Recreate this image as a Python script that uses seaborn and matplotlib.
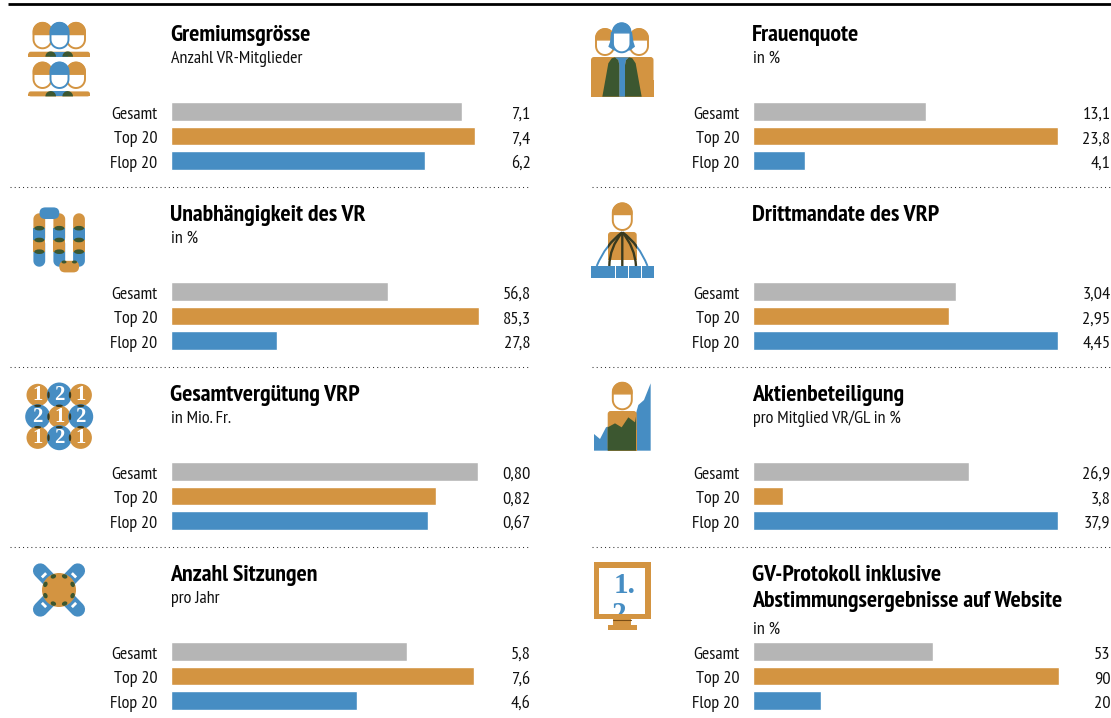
import numpy as np
import pandas as pd
import matplotlib
matplotlib.use('Agg')
import matplotlib.pyplot as plt
from matplotlib.patches import Circle, Ellipse, Polygon, Rectangle, FancyBboxPatch, PathPatch
from matplotlib.path import Path
from matplotlib.transforms import ScaledTranslation
import seaborn as sns

# Data
groups = ['Gesamt', 'Top 20', 'Flop 20']
titles = ['Gremiumsgrösse', 'Frauenquote', 'Unabhängigkeit des VR', 'Drittmandate des VRP',
          'Gesamtvergütung VRP', 'Aktienbeteiligung', 'Anzahl Sitzungen',
          'GV-Protokoll inklusive\nAbstimmungsergebnisse auf Website']
subtitles = ['Anzahl VR-Mitglieder', 'in %', 'in %', '', 'in Mio. Fr.',
             'pro Mitglied VR/GL in %', 'pro Jahr', 'in %']
# printed numbers
value_labels = [['7,1', '7,4', '6,2'], ['13,1', '23,8', '4,1'],
                ['56,8', '85,3', '27,8'], ['3,04', '2,95', '4,45'],
                ['0,80', '0,82', '0,67'], ['26,9', '3,8', '37,9'],
                ['5,8', '7,6', '4,6'], ['53', '90', '20']]
# bar lengths as drawn (some differ from the printed numbers in the original)
bar_values = [[7.1, 7.4, 6.2], [13.5, 23.8, 4.1],
              [56.8, 80.6, 27.8], [2.96, 2.86, 4.45],
              [0.80, 0.69, 0.67], [26.9, 3.8, 37.9],
              [5.84, 7.5, 4.6], [53, 90, 20]]
x_limits = [8.745, 28.0, 94.0, 5.24, 0.935, 44.6, 8.89, 105.6]

GREY = '#B5B5B5'
ORANGE = '#D39441'
BLUE = '#468DC3'
GREEN = '#3C5730'
DARK = '#3A3A1E'
W, H = 1111, 718
NARROW = ['PT Sans Narrow', 'Archivo Narrow', 'DejaVu Sans']
SERIF = ['Liberation Serif', 'DejaVu Serif']

sns.set_theme(style='white')
plt.rcParams['font.family'] = NARROW

fig = plt.figure(figsize=(W / 100, H / 100), dpi=100, facecolor='white')

# overlay in pixel coordinates for rules, headings and icons
bg = fig.add_axes([0, 0, 1, 1])
bg.set_xlim(0, W)
bg.set_ylim(H, 0)
bg.axis('off')


def capsule(cx, top, w, h, n=24):
    t = np.linspace(np.pi, 0, n)
    r = w / 2
    up = np.c_[cx + r * np.cos(t), top + r - r * np.sin(t)]
    low = np.c_[cx + r * np.cos(t[::-1]), top + h - r + r * np.sin(t[::-1])]
    return np.vstack([up, low])


def head(cx, top, w, h, color, hair=0.42, z=3):
    bg.add_patch(Polygon(capsule(cx, top, w, h), closed=True, fc='white', ec=color, lw=1.4, zorder=z))
    hy = top + h * hair
    t = np.linspace(np.pi, 0, 24)
    r = w / 2
    arc = np.c_[cx + r * np.cos(t), top + r - r * np.sin(t)]
    hp = np.vstack([[cx - r, hy], arc, [cx + r, hy]])
    bg.add_patch(Polygon(hp, closed=True, fc=color, ec=color, lw=1, zorder=z + 0.1))


def icon_board(dy):
    for cx, col, z in [(42.5, ORANGE, 3), (76, ORANGE, 3), (59.5, BLUE, 4)]:
        head(cx, 22.8 + dy, 18, 25.5, col, hair=0.46, z=z)
    bg.add_patch(FancyBboxPatch((28.3, 51.7 + dy), 61.7, 5, boxstyle='round,pad=0,rounding_size=2.5',
                                fc=ORANGE, lw=0, zorder=2))
    bg.add_patch(Rectangle((28.3, 54.2 + dy), 61.7, 2.5, fc=ORANGE, lw=0, zorder=2))
    bg.add_patch(Rectangle((50, 51.7 + dy), 18, 5, fc=BLUE, lw=0, zorder=2.1))
    for cx in (50.7, 67.7):
        t = np.linspace(np.pi, 0, 20)
        bg.add_patch(Polygon(np.c_[cx + 5.3 * np.cos(t), 56.7 + dy - 5.3 * np.sin(t)],
                             fc=GREEN, lw=0, zorder=2.2))


def zw(points, x0=570, y0=0):
    return [(x0 + a / 3, y0 + b / 3) for a, b in points]


def icon_women():
    head(605, 29, 18, 26, ORANGE, z=3)
    head(639, 29, 18, 26, ORANGE, z=3)
    bg.add_patch(Polygon([(611, 32), (632, 32), (633.5, 42), (635, 46.7), (630, 50.5), (614, 50.5), (608.3, 46.7), (610, 42)],
                         fc=BLUE, lw=0, zorder=4))
    head(621.7, 23.3, 17.5, 29, BLUE, hair=0.33, z=5)
    bg.add_patch(FancyBboxPatch((591, 57), 62.5, 40, boxstyle='round,pad=0,rounding_size=3',
                                fc=ORANGE, lw=0, zorder=2))
    bg.add_patch(Rectangle((591, 80), 62.5, 17, fc=ORANGE, lw=0, zorder=2))
    bg.add_patch(Polygon(zw([(97, 290), (115, 190), (125, 175), (135, 172), (145, 180), (148, 195), (148, 290)]),
                         fc=GREEN, lw=0, zorder=3))
    bg.add_patch(Polygon(zw([(215, 290), (197, 190), (187, 175), (177, 172), (168, 180), (165, 195), (165, 290)]),
                         fc=GREEN, lw=0, zorder=3))
    bg.add_patch(Polygon(zw([(135, 172), (177, 172), (168, 180), (165, 195), (165, 290), (148, 290), (148, 195), (145, 180)]),
                         fc=BLUE, lw=0, zorder=3))


def icon_independent():
    for x in (39.3, 59.3, 79):
        bg.add_patch(Polygon(capsule(x, 213.3, 11.8, 30), fc=ORANGE, lw=0, zorder=2))
        bg.add_patch(Polygon(capsule(x, 238, 11.8, 28.7), fc=BLUE, lw=0, zorder=2))
        bg.add_patch(Rectangle((x - 5.9, 228.3), 11.8, 11.7, fc=BLUE, lw=0, zorder=2.1))
        bg.add_patch(Rectangle((x - 5.9, 240), 11.8, 11.7, fc=ORANGE, lw=0, zorder=2.1))
        for y in (228.2, 240, 251.7):
            bg.add_patch(Ellipse((x, y), 10, 4.6, fc=GREEN, lw=0, zorder=4))
    bg.add_patch(FancyBboxPatch((39.5, 207.4), 19.8, 11.6, boxstyle='round,pad=0,rounding_size=5.8',
                                fc=BLUE, lw=0, zorder=5))
    bg.add_patch(FancyBboxPatch((59.3, 260.8), 19.8, 11.6, boxstyle='round,pad=0,rounding_size=5.8',
                                fc=ORANGE, lw=0, zorder=5))
    bg.add_patch(Ellipse((64, 262), 5, 3, fc=GREEN, lw=0, zorder=6))
    bg.add_patch(Ellipse((74.5, 262), 5, 3, fc=GREEN, lw=0, zorder=6))


def icon_mandates():
    head(622.3, 203.3, 19, 26.7, ORANGE)
    bg.add_patch(FancyBboxPatch((608, 232), 28.7, 28, boxstyle='round,pad=0,rounding_size=3',
                                fc=ORANGE, lw=0, zorder=2))
    bg.add_patch(Rectangle((608, 250), 28.7, 10, fc=ORANGE, lw=0, zorder=2))
    for a, b in [(591, 615), (616, 628), (629, 641), (642, 654)]:
        bg.add_patch(Rectangle((a, 266), b - a, 12, fc=BLUE, lw=0, zorder=2))
    start = (622.3, 232.3)
    for end, ctrl in [((596.7, 266), (605.8, 244.2)), ((647.5, 266), (639, 244.2))]:
        path = Path([start, ctrl, end], [Path.MOVETO, Path.CURVE3, Path.CURVE3])
        bg.add_patch(PathPatch(path, fc='none', ec=BLUE, lw=1.4, zorder=3))
        dark = PathPatch(path, fc='none', ec=DARK, lw=1.7, zorder=3.2)
        bg.add_patch(dark)
        dark.set_clip_path(Rectangle((608, 232), 28.7, 28, transform=bg.transData))
    for end, ctrl in [((609.3, 266), (609.5, 247.5)), ((622.3, 266), (622.3, 248)), ((636, 266), (635, 247.5))]:
        path = Path([start, ctrl, end], [Path.MOVETO, Path.CURVE3, Path.CURVE3])
        bg.add_patch(PathPatch(path, fc='none', ec=DARK, lw=1.7, zorder=3.1))


def icon_pay():
    xs = [37.7, 59.3, 80.7]
    ys = [395, 416.7, 437.7]
    for i, y in enumerate(ys):
        for j, x in enumerate(xs):
            one = (i + j) % 2 == 0
            col = ORANGE if one else BLUE
            bg.add_patch(Circle((x, y), 11.2 if one else 12.5, fc=col, lw=0, zorder=3))
            bg.text(x, y + 0.3, '1' if one else '2', color='white', fontsize=15, fontweight='bold',
                    family=SERIF, ha='center', va='center', zorder=5)
    for x in (48.5, 70):
        for y in ys:
            bg.add_patch(Ellipse((x, y), 2.4, 7, fc=DARK, lw=0, zorder=4))
    for y in (405.8, 427.2):
        for x in xs:
            bg.add_patch(Ellipse((x, y), 7, 2.4, fc=DARK, lw=0, zorder=4))


def icon_shares():
    head(622.3, 382.7, 19, 26.6, ORANGE)
    bg.add_patch(FancyBboxPatch((607.7, 411), 29, 39.7, boxstyle='round,pad=0,rounding_size=3',
                                fc=ORANGE, lw=0, zorder=2))
    bg.add_patch(Rectangle((607.7, 430), 29, 20.7, fc=ORANGE, lw=0, zorder=2))
    blue_pts = [(72, 192), (90, 207), (108, 172), (113, 170), (198, 130), (205, 105), (222, 90), (242, 40), (242, 242), (72, 242)]
    bg.add_patch(Polygon(zw(blue_pts, 570, 370), fc=BLUE, lw=0, zorder=1.5))
    green_pts = [(113, 172), (135, 160), (155, 172), (175, 142), (195, 157), (198, 140), (198, 242), (113, 242)]
    bg.add_patch(Polygon(zw(green_pts, 570, 370), fc=GREEN, lw=0, zorder=3))


def icon_meetings():
    cx, cy = 59, 590
    for a, b in [((40.3, 570.7), (77.7, 609.3)), ((77.7, 570.7), (40.3, 609.3))]:
        bg.plot([a[0], b[0]], [a[1], b[1]], color=BLUE, lw=10.6, solid_capstyle='round', zorder=2)
    bg.add_patch(Circle((cx, cy), 17, fc=ORANGE, lw=0, zorder=3))
    for k in range(8):
        t = np.radians(22.5 + 45 * k)
        bg.add_patch(Ellipse((cx + 14.7 * np.cos(t), cy + 14.7 * np.sin(t)), 5.6, 4.2, angle=np.degrees(t) + 90,
                             fc=GREEN, lw=0, zorder=4))
    for (x, y, ang) in [(44, 575.3, -45), (74, 575.3, 45), (44, 605, 45), (74, 605, -45)]:
        bg.add_patch(Rectangle((x - 3, y - 1.4), 6, 2.8, angle=ang, rotation_point='center', fc='white', lw=0, zorder=3))


def icon_screen():
    bg.add_patch(Rectangle((594, 562), 57, 57, fc=ORANGE, lw=0, zorder=2))
    inner = Rectangle((599, 568), 46.3, 46, fc='white', lw=0, zorder=3)
    bg.add_patch(inner)
    bg.text(624.3, 592.7, '1.', color=BLUE, fontsize=21, fontweight='bold', family=SERIF,
            ha='center', va='baseline', zorder=4)
    two = bg.text(619.3, 622, '2', color=BLUE, fontsize=21, fontweight='bold', family=SERIF,
                  ha='center', va='baseline', zorder=4)
    two.set_clip_path(inner)
    two.set_clip_on(True)
    bg.add_patch(Rectangle((613.3, 619), 17.7, 6, fc=ORANGE, lw=0, zorder=2))
    bg.plot([613.3, 631], [619.5, 619.5], color='#7A4E16', lw=0.8, zorder=2.1)
    bg.add_patch(Rectangle((608, 625), 28.7, 5, fc=ORANGE, lw=0, zorder=2))


# top rule and dotted separators
bg.plot([8, 1111], [3.6, 3.6], color='black', lw=2, solid_capstyle='butt')
for y in (187, 367, 547):
    bg.plot([10, 530], [y, y], color='#333333', lw=0.75, linestyle=(0, (1, 3)))
    bg.plot([592, 1112], [y, y], color='#333333', lw=0.75, linestyle=(0, (1, 3)))

icon_board(0)
icon_board(39.7)
icon_women()
icon_independent()
icon_mandates()
icon_pay()
icon_shares()
icon_meetings()
icon_screen()

# one small barplot per metric
palette = [GREY, ORANGE, BLUE]
nudge = ScaledTranslation(0, -1.4 / 100, fig.dpi_scale_trans)  # labels sit a little below bar centre
for i, title in enumerate(titles):
    row, col = i // 2, i % 2
    left = 753 if col else 171
    top = 99.25 + 180 * row
    ax = fig.add_axes([(left - 0.4) / W, 1 - (top + 73.5) / H, 359.4 / W, 73.5 / H])
    ax.patch.set_visible(False)
    df = pd.DataFrame({'group': groups, 'value': bar_values[i]})
    sns.barplot(data=df, x='value', y='group', hue='group', palette=palette, width=0.74,
                saturation=1, legend=False, ax=ax)
    ax.set_xlim(0, x_limits[i])
    ax.set_xlabel('')
    ax.set_ylabel('')
    ax.set_xticks([])
    sns.despine(ax=ax, left=True, bottom=True)
    ax.tick_params(axis='y', length=0, pad=9.5, labelsize=13, labelcolor='#111111')
    for t in ax.get_yticklabels():
        t.set_transform(t.get_transform() + nudge)
    value_x = 0.996 if col else 1.002
    for k, label in enumerate(value_labels[i]):
        ax.text(value_x, k, label, transform=ax.get_yaxis_transform() + nudge, ha='right', va='center_baseline',
                fontsize=13.2, color='#111111')

    # headings
    y0 = 40.7 + 180 * row
    lines = title.split('\n')
    for n, line in enumerate(lines):
        bg.text(left - 0.8, y0 + 26.5 * n, line, fontsize=17.2, fontweight='bold', color='black', va='baseline')
    y_sub = y0 + 53 if len(lines) > 1 else y0 + 22.5
    bg.text(left, y_sub, subtitles[i], fontsize=13, color='#111111', va='baseline')

fig.savefig('out.png', dpi=100)
